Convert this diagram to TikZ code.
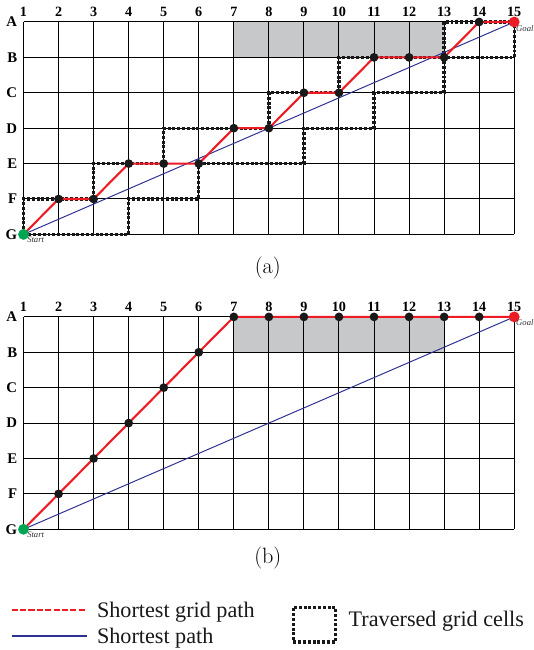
\documentclass[tikz,border=0pt]{standalone}
\usepackage{fontspec}
\newfontfamily\timesfont{Liberation Serif}
\usetikzlibrary{positioning}
\definecolor{PathRed}{HTML}{ED1C24}
\definecolor{PathBlue}{HTML}{2E3192}
\definecolor{StartGreen}{HTML}{00A651}
\definecolor{Blocked}{HTML}{C7C8CA}

\begin{document}
\begin{tikzpicture}[x=1cm,y=1.01cm,
    gridline/.style={black,line width=0.8pt},
    blocked/.style={fill=Blocked},
    traversed/.style={draw=black!90,line width=2.7pt,dash pattern=on 2.4pt off 1.5pt},
    gridpath/.style={PathRed,line width=1.7pt,line join=round},
    direct/.style={PathBlue,line width=0.8pt},
    waypoint/.style={circle,fill=black!90,inner sep=0pt,minimum size=0.25cm},
    endpoint/.style={circle,inner sep=0pt,minimum size=0.31cm},
    collab/.style={font=\timesfont\fontsize{11.5}{12}\selectfont\bfseries,inner sep=0pt},
    rowlab/.style={font=\timesfont\fontsize{12}{12}\selectfont\bfseries,inner sep=0pt},
    taglab/.style={font=\timesfont\fontsize{7}{8}\selectfont\itshape,inner sep=0pt,text=black!80},
    caption/.style={font=\fontsize{18}{20}\selectfont},
    legtext/.style={font=\timesfont\fontsize{18}{21}\selectfont,inner sep=0pt,text=black!90},
    legred/.style={PathRed,line width=2pt,dash pattern=on 4.9pt off 1.9pt},
    legblue/.style={PathBlue,line width=1.6pt}]
  \useasboundingbox (-0.671,0.621) rectangle (14.557,-17.74);
  \foreach \p/\oy in {a/0,b/-8.33} {
    \foreach \r [count=\i from 0] in {A,B,C,D,E,F,G}
      \foreach \c in {1,...,15}
        \coordinate (\p-\c-\r) at (\c-1,\oy-\i);
  }
  \foreach \p in {a,b} {
    \fill[blocked] (\p-7-A) rectangle (\p-13-B);
    \foreach \c in {1,...,15} {
      \draw[gridline] (\p-\c-A) -- (\p-\c-G);
      \node[collab,above=4pt of \p-\c-A] (\p-col-\c) {\c};
    }
    \foreach \r in {A,B,C,D,E,F,G} {
      \draw[gridline] (\p-1-\r) -- (\p-15-\r);
      \node[rowlab,left=5pt of \p-1-\r] (\p-row-\r) {\r};
    }
  }
  \draw[traversed] (a-1-G) -- (a-4-G) -- (a-4-F) -- (a-6-F) -- (a-6-E) -- (a-9-E) -- (a-9-D) -- (a-11-D) -- (a-11-C) -- (a-13-C) -- (a-13-B) -- (a-15-B) -- (a-15-A) -- (a-13-A) -- (a-13-B) -- (a-10-B) -- (a-10-C) -- (a-8-C) -- (a-8-D) -- (a-5-D) -- (a-5-E) -- (a-3-E) -- (a-3-F) -- (a-1-F) -- cycle;
  \foreach \p in {a,b}
    \draw[direct] (\p-1-G) -- (\p-15-A);
  \draw[gridpath] (a-1-G) -- (a-2-F) -- (a-3-F) -- (a-4-E) -- (a-5-E) -- (a-6-E) -- (a-7-D) -- (a-8-D) -- (a-9-C) -- (a-10-C) -- (a-11-B) -- (a-12-B) -- (a-13-B) -- (a-14-A) -- (a-15-A);
  \draw[gridpath] (b-1-G) -- (b-2-F) -- (b-3-E) -- (b-4-D) -- (b-5-C) -- (b-6-B) -- (b-7-A) -- (b-15-A);
  \foreach \pt in {2-F,3-F,4-E,5-E,6-E,7-D,8-D,9-C,10-C,11-B,12-B,13-B,14-A}
    \node[waypoint] (a-dot-\pt) at (a-\pt) {};
  \foreach \pt in {2-F,3-E,4-D,5-C,6-B,7-A,8-A,9-A,10-A,11-A,12-A,13-A,14-A}
    \node[waypoint] (b-dot-\pt) at (b-\pt) {};
  \foreach \p in {a,b} {
    \node[endpoint,fill=StartGreen] (\p-start) at (\p-1-G) {};
    \node[endpoint,fill=PathRed] (\p-goal) at (\p-15-A) {};
    \node[taglab,anchor=north west,xshift=0.1cm,yshift=-0.07cm] (\p-start-lab) at (\p-1-G) {Start};
    \node[taglab,anchor=north west,xshift=0.05cm,yshift=-0.08cm] (\p-goal-lab) at (\p-15-A) {Goal};
  }
  \node[caption] (cap-a) at (6.97,-6.96) {(a)};
  \node[caption] (cap-b) at (6.97,-15.14) {(b)};
  \coordinate (leg-red-start) at (-0.336,-16.61);
  \coordinate (leg-red-end) at (1.814,-16.61);
  \coordinate (leg-blue-start) at (-0.336,-17.34);
  \coordinate (leg-blue-end) at (1.814,-17.34);
  \draw[legred] (leg-red-start) -- (leg-red-end);
  \draw[legblue] (leg-blue-start) -- (leg-blue-end);
  \node[legtext,anchor=base west] (leg-grid) at (2.09,-16.82) {Shortest grid path};
  \node[legtext,anchor=base west] (leg-line) at (2.09,-17.55) {Shortest path};
  \node[traversed,minimum width=1.2cm,minimum height=0.99cm,inner sep=0pt] (leg-box) at (8.3,-17.02) {};
  \node[legtext,anchor=base west] (leg-cells) at (9.27,-17.09) {Traversed grid cells};
\end{tikzpicture}
\end{document}
